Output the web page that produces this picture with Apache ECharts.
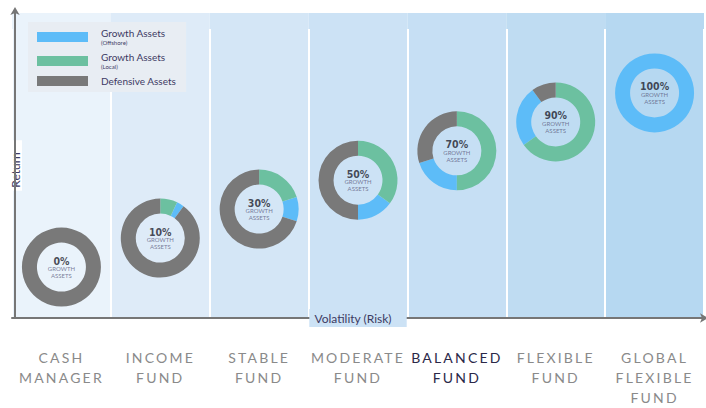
<!DOCTYPE html>
<html><head><meta charset="utf-8">
<script src="https://cdn.jsdelivr.net/npm/echarts@6/dist/echarts.min.js"></script>
<style>
html,body{margin:0;padding:0;background:#fff;}
#main{width:706px;height:408px;}
#main text[fill="#8a8a8a"], #main text[fill="#2b2848"]{letter-spacing:2.2px;}
</style></head><body><div id="main"></div>
<script>
// ---- data ----
const funds = ['CASH\nMANAGER', 'INCOME\nFUND', 'STABLE\nFUND', 'MODERATE\nFUND', 'BALANCED\nFUND', 'FLEXIBLE\nFUND', 'GLOBAL\nFLEXIBLE\nFUND'];
const highlightFund = 'BALANCED\nFUND';
const returnLevel = [1.67, 2.62, 3.57, 4.52, 5.48, 6.43, 7.38];
const growthLocal = [0, 7, 20, 35, 50, 65, 0];
const growthOffshore = [0, 3, 10, 15, 20, 25, 100];
const defensiveAssets = [100, 90, 70, 50, 30, 10, 0];
const seriesNames = ['Growth Assets (Offshore)', 'Growth Assets (Local)', 'Defensive Assets'];
const xAxisName = 'Volatility (Risk)';
const yAxisName = 'Return';

// ---- styles ----
const C_OFF = '#5dbcf8', C_LOC = '#6cc0a0', C_DEF = '#797979';
const BG = ['#eaf3fb', '#deebf8', '#d4e6f6', '#cce2f5', '#c6dff4', '#bfdcf2', '#b6d8f1'];
const OUTER_R = 39.5, INNER_R = 24.5;
const FONT = 'Lato, "Noto Sans", sans-serif';

const offStart = growthLocal.slice();
const locStart = growthLocal.map(() => 0);
const defStart = growthLocal.map((v, i) => v + growthOffshore[i]);

function donut(name, color, starts, shares) {
  return {
    type: 'custom', name: name, xAxisIndex: 0, yAxisIndex: 0,
    itemStyle: { color: color },
    encode: { x: 0, y: 1 },
    data: funds.map((f, i) => [i, returnLevel[i], starts[i], shares[i]]),
    renderItem: function (params, api) {
      const share = api.value(3);
      if (!share) return null;
      const c = api.coord([api.value(0), api.value(1)]);
      const a0 = -Math.PI / 2 + api.value(2) / 100 * 2 * Math.PI;
      const a1 = a0 + share / 100 * 2 * Math.PI;
      return {
        type: 'sector',
        shape: { cx: c[0], cy: c[1], r: OUTER_R, r0: INNER_R, startAngle: a0, endAngle: a1, clockwise: true },
        style: { fill: api.visual('color') }
      };
    }
  };
}

const chart = echarts.init(document.getElementById('main'), null, { renderer: 'svg' });
chart.setOption({
  animation: false,
  backgroundColor: '#ffffff',
  grid: [
    { left: 12, right: 2, top: 13, bottom: 90, outerBoundsMode: 'none' },
    { left: 12, right: 2, top: 29, bottom: 90, outerBoundsMode: 'none' }
  ],
  legend: {
    data: seriesNames,
    orient: 'vertical', left: 28, top: 22,
    padding: [6, 10, 6, 9],
    backgroundColor: '#e8edf3',
    itemWidth: 51, itemHeight: 10, itemGap: 7,
    icon: 'rect',
    formatter: function (name) {
      const m = name.match(/^(.*?) (\(.*\))$/);
      return m ? '{a|' + m[1] + '}\n{b|' + m[2] + '}' : '{d|' + name + '}';
    },
    textStyle: {
      rich: {
        a: { fontSize: 10, lineHeight: 10, color: '#3d3a63', fontFamily: FONT, padding: [0, 0, 0, 8] },
        b: { fontSize: 6, lineHeight: 8, color: '#3d3a63', fontFamily: FONT, padding: [0, 0, 0, 8] },
        d: { fontSize: 10, lineHeight: 18, color: '#3d3a63', fontFamily: FONT, padding: [0, 0, 0, 8] }
      }
    }
  },
  xAxis: [
    {
      type: 'category', gridIndex: 0, data: funds, boundaryGap: true,
      axisLine: { show: true, lineStyle: { color: '#767676', width: 2 }, symbol: ['none', 'arrow'], symbolSize: [7, 8], symbolOffset: [0, 4] },
      axisTick: { show: false },
      splitLine: { show: false },
      splitArea: { show: true, areaStyle: { color: BG } },
      axisLabel: {
        interval: 0, margin: 29, fontSize: 14, lineHeight: 20, fontFamily: FONT, fontWeight: 'normal',
        color: function (v, i) { return funds[i] === highlightFund ? '#2b2848' : '#8a8a8a'; }
      }
    },
    {
      type: 'category', gridIndex: 1, data: funds, boundaryGap: true,
      axisLine: { show: false }, axisTick: { show: false }, axisLabel: { show: false },
      splitLine: { show: true, lineStyle: { color: '#ffffff', width: 2 } },
      name: xAxisName, nameLocation: 'middle', nameGap: 0, nameMoveOverlap: false,
      nameTextStyle: {
        fontSize: 12, fontFamily: FONT, color: '#3d3a63', verticalAlign: 'middle', align: 'center',
        backgroundColor: BG[3], padding: [3, 15, 3, 5]
      }
    }
  ],
  yAxis: [
    {
      type: 'value', gridIndex: 0, min: 0, max: 10, offset: -3,
      axisLine: { show: true, lineStyle: { color: '#767676', width: 2 }, symbol: ['none', 'arrow'], symbolSize: [7, 8], symbolOffset: [0, 6] },
      axisTick: { show: false }, axisLabel: { show: false }, splitLine: { show: false },
      name: yAxisName, nameLocation: 'middle', nameGap: 0, nameRotate: 90, nameMoveOverlap: false,
      nameTextStyle: {
        fontSize: 12, fontFamily: FONT, color: '#3d3a63', verticalAlign: 'middle', align: 'center',
        backgroundColor: '#ffffff', padding: [1, 12, 1, 3]
      }
    },
    { type: 'value', gridIndex: 1, min: 0, max: 10, show: false }
  ],
  series: [
    donut(seriesNames[0], C_OFF, offStart, growthOffshore),
    donut(seriesNames[1], C_LOC, locStart, growthLocal),
    donut(seriesNames[2], C_DEF, defStart, defensiveAssets),
    {
      type: 'scatter', name: 'labels', xAxisIndex: 0, yAxisIndex: 0, silent: true,
      symbolSize: 1, itemStyle: { color: 'rgba(0,0,0,0)' },
      data: funds.map((f, i) => [i, returnLevel[i], growthLocal[i] + growthOffshore[i]]),
      label: {
        show: true, position: 'inside',
        formatter: function (p) { return '{p|' + p.value[2] + '%}\n{g|GROWTH}\n{g|ASSETS}'; },
        rich: {
          p: { fontSize: 10.5, lineHeight: 10, fontWeight: 'bold', color: '#1e1e2e', fontFamily: '"DejaVu Sans Condensed", "Liberation Sans Narrow", Roboto, sans-serif' },
          g: { fontSize: 6, lineHeight: 6.5, color: '#5c5c80', fontFamily: FONT }
        }
      }
    }
  ]
});
</script></body></html>
